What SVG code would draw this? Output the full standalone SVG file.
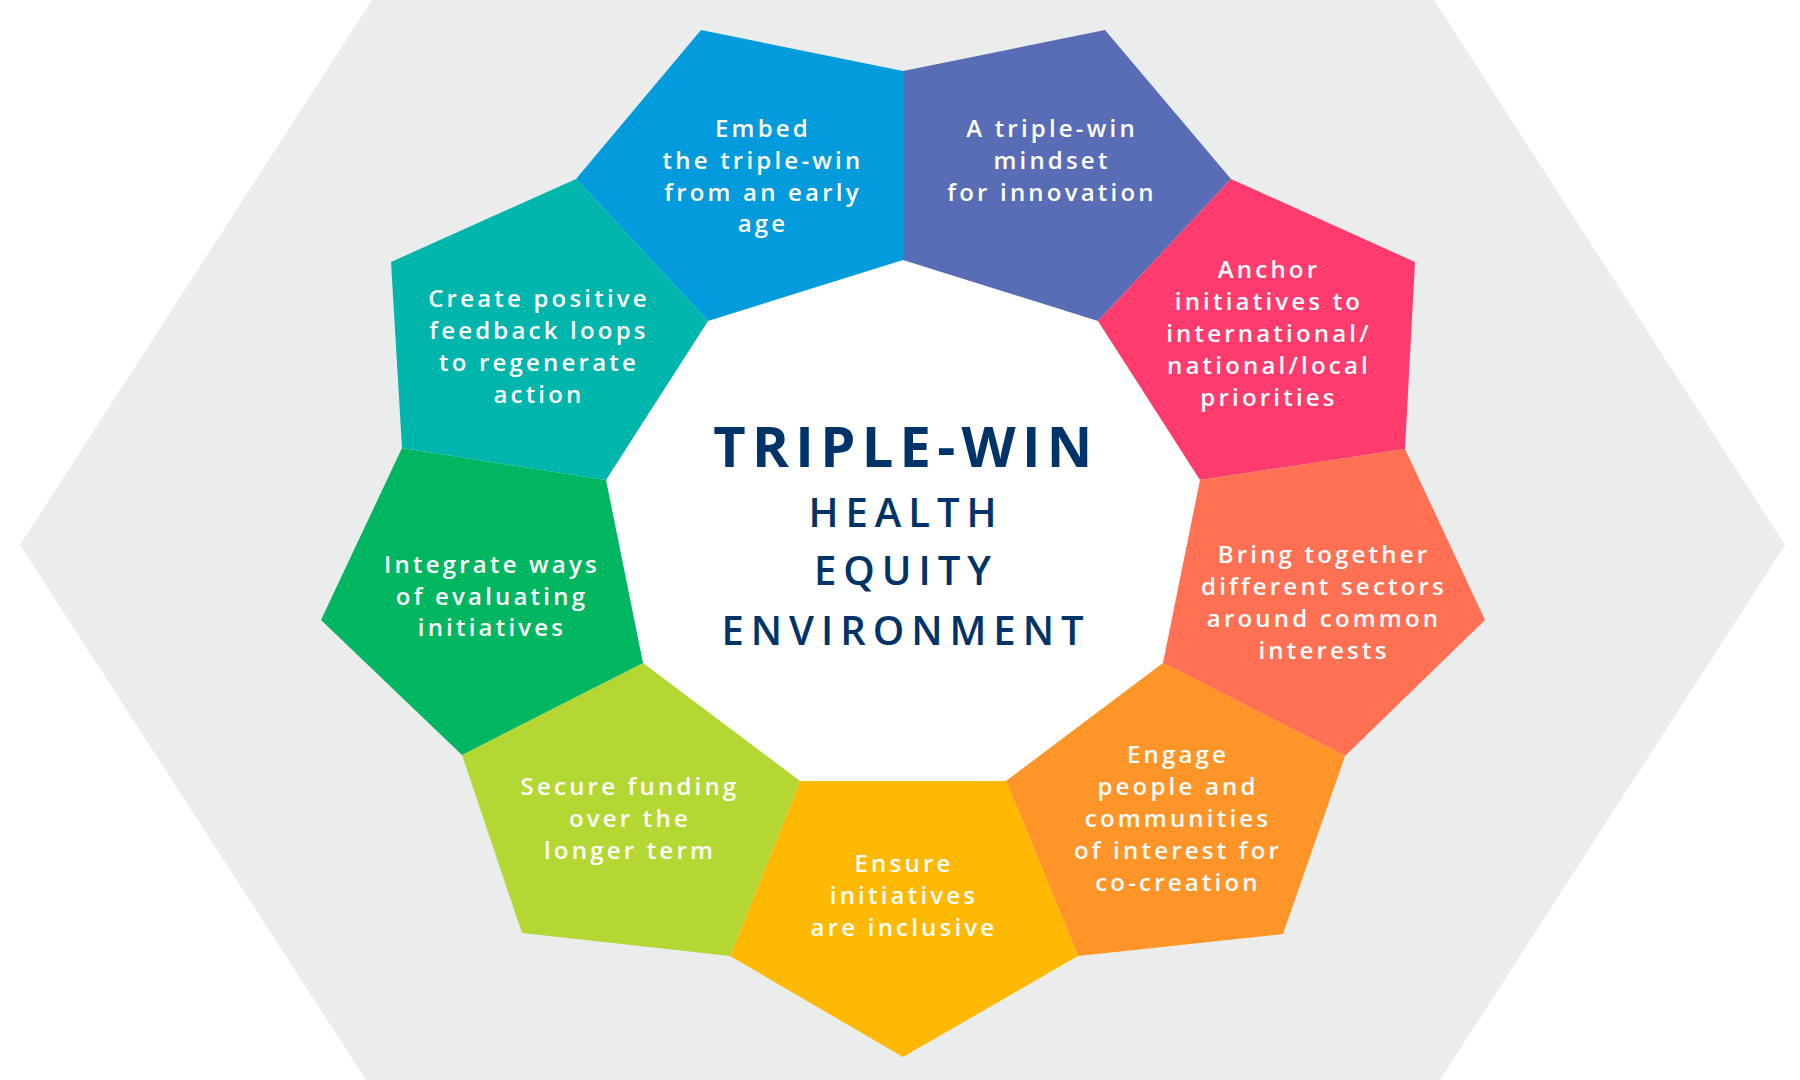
<svg xmlns="http://www.w3.org/2000/svg" width="1800" height="1080" viewBox="0 0 1800 1080">
<style>
.lbl{font-family:"Open Sans","Liberation Sans",sans-serif;font-size:24px;fill:#ffffff;text-anchor:middle;letter-spacing:3.2px;font-weight:600}
.ttl{font-family:"Open Sans","Liberation Sans",sans-serif;fill:#003469;text-anchor:middle}
.t1{font-size:56px;font-weight:700;letter-spacing:6.3px}
.t2{font-size:40px;font-weight:600;letter-spacing:7px}
</style>
<rect x="0" y="0" width="1800" height="1080" fill="#ffffff"/>
<polygon id="backdrop" points="372,0 1434,0 1785,545 1440,1080 366,1080 20,545" fill="#EBEDEC"/>
<polygon id="center" points="903,260 1098,321 1200,480 1163,663 1006,781 800,781 643,663 606,480 708,321" fill="#ffffff"/>
<g id="connectors"></g>
<g id="n-embed">
<polygon points="708,321 576,179 701,30 903,71 903,260" fill="#039BDB"/>
<text class="lbl"><tspan x="763" y="137">Embed</tspan><tspan x="763" y="169">the triple-win</tspan><tspan x="763" y="201">from an early</tspan><tspan x="763" y="232">age</tspan></text>
</g>
<g id="n-mindset">
<polygon points="903,260 903,71 1105,30 1231,179 1098,321" fill="#586DB5"/>
<text class="lbl"><tspan x="1052" y="137">A triple-win</tspan><tspan x="1052" y="169">mindset</tspan><tspan x="1052" y="201">for innovation</tspan></text>
</g>
<g id="n-anchor">
<polygon points="1098,321 1231,179 1415,262 1405,449 1200,480" fill="#FD3B6D"/>
<text class="lbl"><tspan x="1269" y="278">Anchor</tspan><tspan x="1269" y="310">initiatives to</tspan><tspan x="1269" y="342">international/</tspan><tspan x="1269" y="374">national/local</tspan><tspan x="1269" y="406">priorities</tspan></text>
</g>
<g id="n-bring">
<polygon points="1200,480 1405,449 1485,620 1345,756 1163,663" fill="#FF7152"/>
<text class="lbl"><tspan x="1324" y="563">Bring together</tspan><tspan x="1324" y="595">different sectors</tspan><tspan x="1324" y="627">around common</tspan><tspan x="1324" y="659">interests</tspan></text>
</g>
<g id="n-engage">
<polygon points="1163,663 1345,756 1283,934 1078,956 1006,781" fill="#FF9528"/>
<text class="lbl"><tspan x="1178" y="763">Engage</tspan><tspan x="1178" y="795">people and</tspan><tspan x="1178" y="827">communities</tspan><tspan x="1178" y="859">of interest for</tspan><tspan x="1178" y="891">co-creation</tspan></text>
</g>
<g id="n-ensure">
<polygon points="1006,781 1078,956 903,1057 730,956 800,781" fill="#FFB903"/>
<text class="lbl"><tspan x="904" y="872">Ensure</tspan><tspan x="904" y="904">initiatives</tspan><tspan x="904" y="936">are inclusive</tspan></text>
</g>
<g id="n-secure">
<polygon points="800,781 730,956 522,933 462,755 643,663" fill="#B5D733"/>
<text class="lbl"><tspan x="630" y="795">Secure funding</tspan><tspan x="630" y="827">over the</tspan><tspan x="630" y="859">longer term</tspan></text>
</g>
<g id="n-integrate">
<polygon points="643,663 462,755 321,620 402,448 606,480" fill="#00B660"/>
<text class="lbl"><tspan x="492" y="573">Integrate ways</tspan><tspan x="492" y="605">of evaluating</tspan><tspan x="492" y="636">initiatives</tspan></text>
</g>
<g id="n-create">
<polygon points="606,480 402,448 391,262 576,179 708,321" fill="#00B5AC"/>
<text class="lbl"><tspan x="539" y="307">Create positive</tspan><tspan x="539" y="339">feedback loops</tspan><tspan x="539" y="371">to regenerate</tspan><tspan x="539" y="403">action</tspan></text>
</g>
<g id="n-title">
<text class="ttl t1" x="906" y="467">TRIPLE-WIN</text>
<text class="ttl t2" x="906" y="527">HEALTH</text>
<text class="ttl t2" x="906" y="585">EQUITY</text>
<text class="ttl t2" x="906" y="645">ENVIRONMENT</text>
</g>
</svg>
